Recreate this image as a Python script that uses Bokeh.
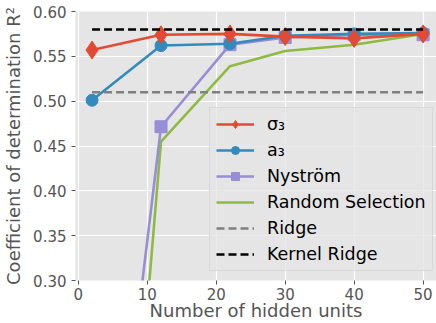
from bokeh.plotting import figure
from bokeh.models import Legend, LegendItem, NumeralTickFormatter, FixedTicker, Range1d
from bokeh.embed import file_html
from bokeh.resources import INLINE

# Number of hidden units
units = [2, 12, 22, 30, 40, 50]

# R^2 scores per method
sigma3 = [0.557, 0.574, 0.575, 0.572, 0.570, 0.575]
a3 = [0.501, 0.562, 0.564, 0.573, 0.575, 0.576]
nystrom = [-0.166, 0.4715, 0.563, 0.571, 0.574, 0.574]
random_sel = [-0.468, 0.455, 0.539, 0.556, 0.563, 0.575]

# Baselines drawn across the same unit span
baseline_x = [2, 50]
ridge = [0.51, 0.51]
kernel_ridge = [0.58, 0.58]

FONT = "DejaVu Sans"
BG = "#E5E5E5"
TEXT = "#555555"

p = figure(width=436, height=323, output_backend="svg", toolbar_location=None,
           x_range=Range1d(-0.4, 51.94), y_range=Range1d(0.30, 0.60),
           min_border_left=72, min_border_right=0, min_border_top=11,
           min_border_bottom=0)
p.background_fill_color = BG
p.border_fill_color = "white"
p.outline_line_color = None

p.xgrid.grid_line_color = "white"
p.ygrid.grid_line_color = "white"
p.xgrid.grid_line_width = 1.2
p.ygrid.grid_line_width = 1.2

p.xaxis.ticker = FixedTicker(ticks=[0, 10, 20, 30, 40, 50])
p.yaxis.ticker = FixedTicker(ticks=[0.30, 0.35, 0.40, 0.45, 0.50, 0.55, 0.60])
p.yaxis.formatter = NumeralTickFormatter(format="0.00")
for ax in (p.xaxis, p.yaxis):
    ax.axis_line_color = None
    ax.major_tick_line_color = TEXT
    ax.major_tick_out = 4
    ax.major_tick_in = 0
    ax.minor_tick_line_color = None
    ax.major_label_text_font = FONT
    ax.major_label_text_font_size = "15px"
    ax.major_label_text_color = TEXT
    ax.major_label_text_line_height = 1.0
    ax.axis_label_text_font = FONT
    ax.axis_label_text_font_size = "18px"
    ax.axis_label_text_font_style = "normal"
    ax.axis_label_text_color = TEXT
    ax.axis_label_text_line_height = 1.0
p.xaxis.axis_label = "Number of hidden units"
p.yaxis.axis_label = "Coefficient of determination R²"
p.xaxis.axis_label_text_line_height = 0.8
p.xaxis.major_label_standoff = 3
p.yaxis.major_label_standoff = 5
p.xaxis.axis_label_standoff = -3
p.yaxis.axis_label_standoff = 6

LW = 2.6
rs_line = p.line(units, random_sel, line_color="#8EBA42", line_width=LW)
ny_line = p.line(units, nystrom, line_color="#988ED5", line_width=LW)
ny_mk = p.scatter(units, nystrom, marker="square", size=12, color="#988ED5")
a3_line = p.line(units, a3, line_color="#348ABD", line_width=LW)
a3_mk = p.scatter(units, a3, marker="circle", size=12, color="#348ABD")
s3_line = p.line(units, sigma3, line_color="#E24A33", line_width=LW)
s3_mk = p.scatter(units, sigma3, marker="diamond", size=18, color="#E24A33")
ridge_line = p.line(baseline_x, ridge, line_color="#808080", line_width=LW,
                    line_dash="8 4")
kr_line = p.line(baseline_x, kernel_ridge, line_color="black", line_width=LW,
                 line_dash="8 4")

legend = Legend(items=[
    LegendItem(label="σ₃", renderers=[s3_line, s3_mk]),
    LegendItem(label="a₃", renderers=[a3_line, a3_mk]),
    LegendItem(label="Nyström", renderers=[ny_line, ny_mk]),
    LegendItem(label="Random Selection", renderers=[rs_line]),
    LegendItem(label="Ridge", renderers=[ridge_line]),
    LegendItem(label="Kernel Ridge", renderers=[kr_line]),
], location=(134, 9))
legend.label_text_font = FONT
legend.label_text_font_size = "17.5px"
legend.label_text_color = "black"
legend.background_fill_color = BG
legend.background_fill_alpha = 0.8
legend.border_line_color = "#CCCCCC"
legend.border_line_width = 1
legend.glyph_width = 38
legend.glyph_height = 20
legend.label_height = 20
legend.spacing = 6
legend.padding = 6
legend.margin = 0
legend.label_standoff = 13
p.add_layout(legend, "center")

open("out.html", "w").write(file_html(p, INLINE))
